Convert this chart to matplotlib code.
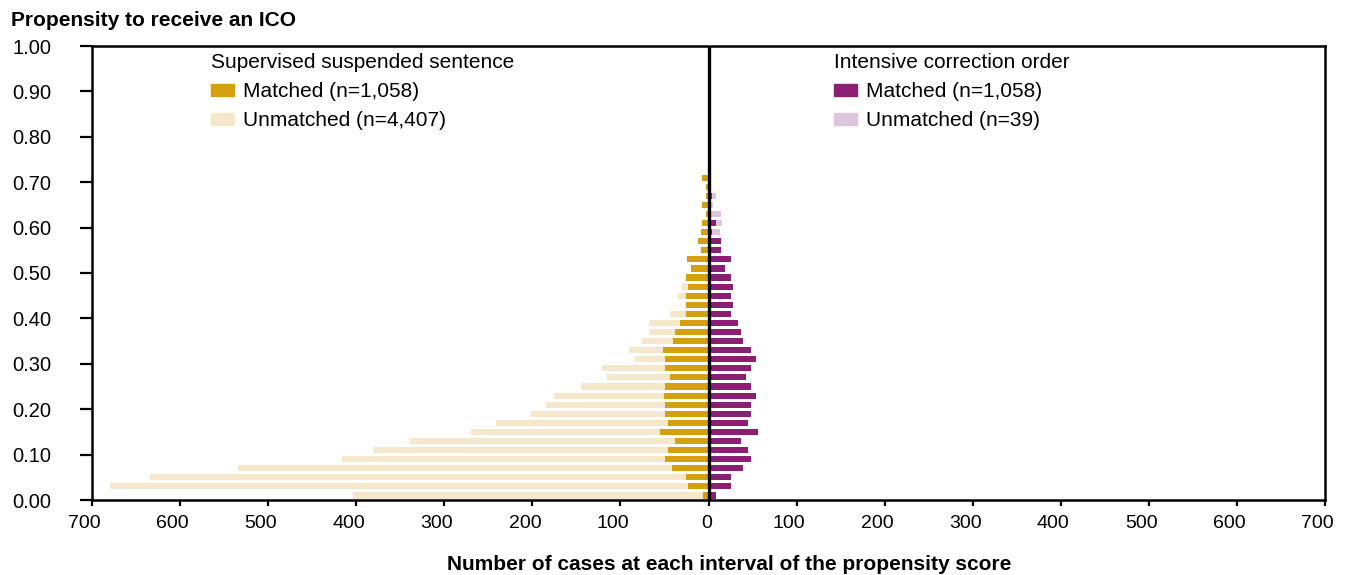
import numpy as np
import matplotlib
matplotlib.use('Agg')
import matplotlib.pyplot as plt
from matplotlib.patches import Patch
from matplotlib.ticker import FuncFormatter
from matplotlib.transforms import ScaledTranslation

plt.rcParams['font.family'] = ['Liberation Sans', 'DejaVu Sans']

# lower edge of each 0.02 propensity interval
bin_lower = np.round(np.arange(0.0, 0.72, 0.02), 2)

sss_matched = [6, 23, 26, 41, 49, 46, 38, 55, 46, 49, 49, 51, 49, 44, 49, 49, 52, 40,
               38, 32, 26, 26, 26, 23, 26, 20, 24, 9, 12, 9, 7, 3, 7, 3, 3, 7]
sss_unmatched = [398, 656, 608, 493, 367, 335, 301, 215, 195, 152, 135, 124, 96, 71, 72, 35, 38, 35,
                 29, 35, 18, 0, 9, 7, 0, 0, 0, 0, 0, 0, 0, 0, 0, 0, 0, 0]
ico_matched = [8, 25, 25, 39, 48, 45, 37, 56, 45, 48, 48, 54, 48, 43, 48, 54, 48, 39,
               37, 34, 25, 28, 25, 28, 25, 19, 25, 14, 14, 4, 8, 0, 0, 4, 0, 0]
ico_unmatched = [0, 0, 0, 0, 0, 0, 0, 0, 0, 0, 0, 0, 0, 0, 0, 0, 0, 0,
                 0, 0, 0, 0, 0, 0, 0, 0, 0, 0, 0, 9, 7, 14, 5, 4, 0, 0]

xticks = [-700, -600, -500, -400, -300, -200, -100, 0, 100, 200, 300, 400, 500, 600, 700]
yticks = [0.0, 0.1, 0.2, 0.3, 0.4, 0.5, 0.6, 0.7, 0.8, 0.9, 1.0]

c_sss = '#D4A00F'
c_sss_light = '#F5E7CA'
c_ico = '#8A1F73'
c_ico_light = '#DDC5DD'

W, H = 1349, 575
fig = plt.figure(figsize=(W / 100, H / 100), dpi=100)
ax = fig.add_axes([92 / W, 1 - 500 / H, (1325 - 92) / W, (500 - 46) / H])

y = bin_lower + 0.01
sm = np.array(sss_matched)
su = np.array(sss_unmatched)
im = np.array(ico_matched)
iu = np.array(ico_unmatched)
h = 0.0135

ax.barh(y, -sm, height=h, color=c_sss, linewidth=0)
ax.barh(y, -su, left=-sm, height=h, color=c_sss_light, linewidth=0)
ax.barh(y, im, height=h, color=c_ico, linewidth=0)
ax.barh(y, iu, left=im, height=h, color=c_ico_light, linewidth=0)
ax.axvline(0, color='black', lw=2.4, zorder=5)

ax.set_xlim(-700, 700)
ax.set_ylim(0, 1)
ax.set_xticks(xticks)
ax.set_yticks(yticks)
ax.xaxis.set_major_formatter(FuncFormatter(lambda v, p: '%d' % abs(v)))
ax.yaxis.set_major_formatter(FuncFormatter(lambda v, p: '%.2f' % v))
ax.tick_params(axis='y', direction='out', length=9, width=1.6, labelsize=14.5, pad=20)
ax.tick_params(axis='x', direction='out', length=4, width=1.6, labelsize=14, pad=7)
for s in ax.spines.values():
    s.set_linewidth(1.8)

# the x labels in the original sit a little left of their ticks
for tick, v in zip(ax.xaxis.get_major_ticks(), xticks):
    dx = -2 if v == 0 else -7.5
    tick.label1.set_transform(tick.label1.get_transform() +
                              ScaledTranslation(dx / 100, 0, fig.dpi_scale_trans))

fig.text(11.5 / W, 1 - 26 / H, 'Propensity to receive an ICO', fontsize=15, fontweight='bold',
         ha='left', va='baseline')
fig.text(729 / W, 1 - 570 / H, 'Number of cases at each interval of the propensity score',
         fontsize=15, fontweight='bold', ha='center', va='baseline')

leg_kw = dict(frameon=False, fontsize=15, title_fontsize=15, alignment='left',
              handlelength=1.1, handleheight=0.48, handletextpad=0.42,
              labelspacing=0.485, borderpad=0, borderaxespad=0, loc='upper left',
              bbox_transform=fig.transFigure)
leg1 = ax.legend(handles=[Patch(color=c_sss, label='Matched (n=1,058)'),
                          Patch(color=c_sss_light, label='Unmatched (n=4,407)')],
                 title='Supervised suspended sentence',
                 bbox_to_anchor=(211 / W, 1 - 53 / H), **leg_kw)
ax.add_artist(leg1)
ax.legend(handles=[Patch(color=c_ico, label='Matched (n=1,058)'),
                   Patch(color=c_ico_light, label='Unmatched (n=39)')],
          title='Intensive correction order',
          bbox_to_anchor=(834 / W, 1 - 53 / H), **leg_kw)

fig.savefig('out.png', dpi=100)
